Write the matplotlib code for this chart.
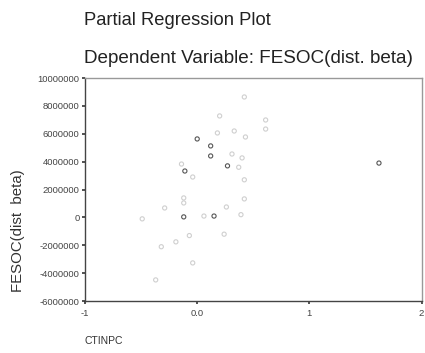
import matplotlib.pyplot as plt

plt.rcParams['font.family'] = ['Liberation Sans', 'DejaVu Sans']

# Partial regression residuals: CTINPC vs FESOC
x_dark = [0.00, 0.12, 0.12, -0.11, 0.27, -0.12, 0.15, 1.62]
y_dark = [5.63e6, 5.13e6, 4.41e6, 3.33e6, 3.70e6, 0.04e6, 0.10e6, 3.90e6]

x_faint = [0.42, 0.20, 0.61, 0.61, 0.18, 0.33, 0.43, 0.31, 0.40, 0.37, -0.14,
           -0.04, 0.42, -0.12, -0.12, 0.42, 0.26, -0.29, 0.06, 0.39, -0.49,
           -0.07, 0.24, -0.19, -0.32, -0.04, -0.37]
y_faint = [8.64e6, 7.28e6, 6.99e6, 6.34e6, 6.06e6, 6.20e6, 5.77e6, 4.55e6,
           4.27e6, 3.60e6, 3.83e6, 2.90e6, 2.70e6, 1.40e6, 1.04e6, 1.33e6,
           0.75e6, 0.68e6, 0.10e6, 0.20e6, -0.10e6, -1.30e6, -1.20e6,
           -1.75e6, -2.10e6, -3.26e6, -4.48e6]

x_ticks = [-1, 0, 1, 2]
x_ticklabels = ['-1', '0.0', '1', '2']
y_ticks = [-6000000, -4000000, -2000000, 0, 2000000, 4000000, 6000000,
           8000000, 10000000]

fig = plt.figure(figsize=(4.25, 3.53), dpi=100)
ax = fig.add_axes([0.200, 0.147, 0.792, 0.632])

ax.scatter(x_faint, y_faint, s=9, facecolors='none', edgecolors='#cfcfcf',
           linewidths=0.8)
ax.scatter(x_dark, y_dark, s=9, facecolors='none', edgecolors='#555555',
           linewidths=0.8)

ax.set_xlim(-1, 2)
ax.set_ylim(-6000000, 10000000)
ax.set_xticks(x_ticks)
ax.set_xticklabels(x_ticklabels)
ax.set_yticks(y_ticks)
ax.set_yticklabels([str(v) for v in y_ticks])
ax.tick_params(axis='both', direction='out', length=2, width=1.2,
               color='#333333', labelsize=6.8, labelcolor='#444444', pad=2)
ax.tick_params(axis='x', pad=4)

ax.spines['left'].set_color('#444444')
ax.spines['bottom'].set_color('#444444')
ax.spines['top'].set_color('#999999')
ax.spines['right'].set_color('#999999')
for s in ax.spines.values():
    s.set_linewidth(1.0)

fig.text(0.198, 0.943, 'Partial Regression Plot', fontsize=13.2,
         color='#222222', va='center')
fig.text(0.198, 0.835, 'Dependent Variable: FESOC(dist. beta)', fontsize=13.6,
         color='#222222', va='center')
fig.text(0.042, 0.348, 'FESOC(dist  beta)', fontsize=10.8, rotation=90,
         color='#333333', ha='center', va='center')
fig.text(0.198, 0.034, 'CTINPC', fontsize=7.5, color='#333333', va='center')

fig.savefig('out.png', dpi=100)
